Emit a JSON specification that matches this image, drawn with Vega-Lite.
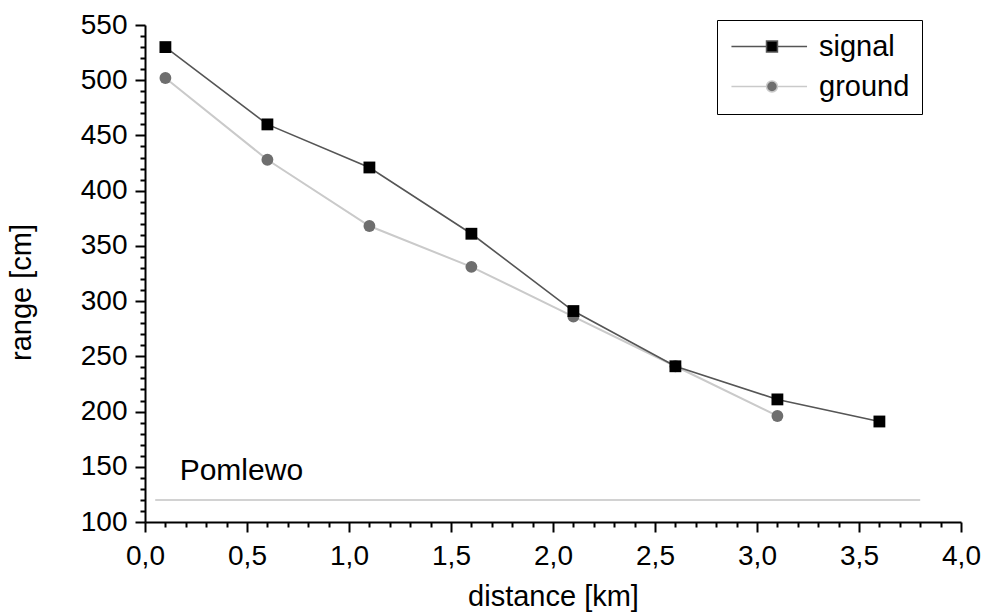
{
  "$schema": "https://vega.github.io/schema/vega-lite/v6.json",
  "width": 816,
  "height": 497,
  "autosize": {"type": "none"},
  "padding": {"left": 145, "top": 25, "right": 23, "bottom": 92},
  "background": "#ffffff",
  "config": {
    "view": {"stroke": null},
    "font": "Liberation Sans",
    "axis": {
      "labelFont": "Liberation Sans",
      "titleFont": "Liberation Sans",
      "labelFontSize": 28,
      "titleFontSize": 29,
      "titleFontWeight": "normal",
      "labelColor": "#000000",
      "titleColor": "#000000",
      "domainColor": "#000000",
      "tickColor": "#000000",
      "domainWidth": 2,
      "tickWidth": 2,
      "grid": false
    }
  },
  "datasets": {
    "pts": [
      {"series": "signal", "distance": 0.1, "range": 530},
      {"series": "signal", "distance": 0.6, "range": 460},
      {"series": "signal", "distance": 1.1, "range": 421},
      {"series": "signal", "distance": 1.6, "range": 361},
      {"series": "signal", "distance": 2.1, "range": 291},
      {"series": "signal", "distance": 2.6, "range": 241},
      {"series": "signal", "distance": 3.1, "range": 211},
      {"series": "signal", "distance": 3.6, "range": 191},
      {"series": "ground", "distance": 0.1, "range": 502},
      {"series": "ground", "distance": 0.6, "range": 428},
      {"series": "ground", "distance": 1.1, "range": 368},
      {"series": "ground", "distance": 1.6, "range": 331},
      {"series": "ground", "distance": 2.1, "range": 286},
      {"series": "ground", "distance": 2.6, "range": 241},
      {"series": "ground", "distance": 3.1, "range": 196}
    ]
  },
  "layer": [
    {
      "data": {"values": [{"x": 0.05, "x2": 3.8, "y": 120}]},
      "mark": {"type": "rule", "color": "#d2d2d2", "strokeWidth": 2},
      "encoding": {
        "x": {"field": "x", "type": "quantitative", "scale": {"domain": [0, 4], "nice": false, "zero": false},
          "axis": {
            "title": "distance [km]",
            "tickCount": 200,
            "values": [0,0.1,0.2,0.3,0.4,0.5,0.6,0.7,0.8,0.9,1,1.1,1.2,1.3,1.4,1.5,1.6,1.7,1.8,1.9,2,2.1,2.2,2.3,2.4,2.5,2.6,2.7,2.8,2.9,3,3.1,3.2,3.3,3.4,3.5,3.6,3.7,3.8,3.9,4],
            "labelExpr": "abs(datum.value*2 - round(datum.value*2)) < 0.001 ? replace(format(datum.value, '.1f'), '.', ',') : ''",
            "tickSize": {"condition": {"test": "abs(datum.value*2 - round(datum.value*2)) < 0.001", "value": 10}, "value": 5},
            "labelPadding": 10,
            "titlePadding": 12,
            "labelFlush": false,
            "labelOverlap": false
          }},
        "x2": {"field": "x2"},
        "y": {"field": "y", "type": "quantitative", "scale": {"domain": [100, 550], "nice": false, "zero": false},
          "axis": {
            "title": "range [cm]",
            "titleY": 267,
            "tickCount": 200,
            "values": [100,110,120,130,140,150,160,170,180,190,200,210,220,230,240,250,260,270,280,290,300,310,320,330,340,350,360,370,380,390,400,410,420,430,440,450,460,470,480,490,500,510,520,530,540,550],
            "labelExpr": "datum.value % 50 === 0 ? datum.label : ''",
            "tickSize": {"condition": {"test": "datum.value % 50 === 0", "value": 10}, "value": 5},
            "labelPadding": 8,
            "titlePadding": 44,
            "labelFlush": false,
            "labelOverlap": false
          }}
      }
    },
    {
      "data": {"values": [{"x": 0.17, "y": 138, "label": "Pomlewo"}]},
      "mark": {"type": "text", "align": "left", "baseline": "alphabetic", "fontSize": 30, "font": "Liberation Sans", "color": "#000000"},
      "encoding": {
        "x": {"field": "x", "type": "quantitative"},
        "y": {"field": "y", "type": "quantitative"},
        "text": {"field": "label"}
      }
    },
    {
      "data": {"name": "pts"},
      "transform": [{"filter": "datum.series === 'ground'"}],
      "mark": {"type": "line", "strokeWidth": 2, "color": "#cacaca"},
      "encoding": {
        "x": {"field": "distance", "type": "quantitative"},
        "y": {"field": "range", "type": "quantitative"},
        "order": {"field": "distance"}
      }
    },
    {
      "data": {"name": "pts"},
      "transform": [{"filter": "datum.series === 'signal'"}],
      "mark": {"type": "line", "strokeWidth": 1.6, "color": "#555555"},
      "encoding": {
        "x": {"field": "distance", "type": "quantitative"},
        "y": {"field": "range", "type": "quantitative"},
        "order": {"field": "distance"}
      }
    },
    {
      "data": {"name": "pts"},
      "transform": [{"filter": "datum.series === 'ground'"}],
      "mark": {"type": "point", "shape": "circle", "filled": true, "opacity": 1, "size": 140, "color": "#6e6e6e"},
      "encoding": {
        "x": {"field": "distance", "type": "quantitative"},
        "y": {"field": "range", "type": "quantitative"}
      }
    },
    {
      "data": {"name": "pts"},
      "transform": [{"filter": "datum.series === 'signal'"}],
      "mark": {"type": "point", "shape": "square", "filled": true, "opacity": 1, "size": 140, "color": "#000000"},
      "encoding": {
        "x": {"field": "distance", "type": "quantitative"},
        "y": {"field": "range", "type": "quantitative"}
      }
    },
    {
      "data": {"name": "pts"},
      "transform": [{"filter": "datum.series === 'none'"}],
      "mark": {"type": "point", "filled": true, "opacity": 1},
      "encoding": {
        "x": {"field": "distance", "type": "quantitative"},
        "y": {"field": "range", "type": "quantitative"},
        "color": {
          "field": "series", "type": "nominal",
          "scale": {"domain": ["signal", "ground"], "range": ["#000000", "#6e6e6e"]},
          "legend": {
            "title": null,
            "orient": "none",
            "legendX": 572,
            "legendY": -5,
            "strokeColor": "#000000",
            "padding": 12,
            "labelFont": "Liberation Sans",
            "labelFontSize": 29,
            "labelColor": "#000000",
            "labelOffset": 61,
            "rowPadding": 10,
            "symbolSize": 120,
            "symbolStrokeWidth": 1.5
          }
        },
        "stroke": {"field": "series", "type": "nominal", "scale": {"domain": ["signal", "ground"], "range": ["#555555", "#cacaca"]}},
        "shape": {
          "field": "series", "type": "nominal",
          "scale": {"domain": ["signal", "ground"], "range": ["M-2.2,0H4.2M6.2,0H11.6M4.2,-1H6.2V1H4.2Z", "M-2.2,0H4.2M6.2,0H11.6M4.2,0A1,1 0 1,0 6.2,0A1,1 0 1,0 4.2,0Z"]}
        }
      }
    }
  ]
}
